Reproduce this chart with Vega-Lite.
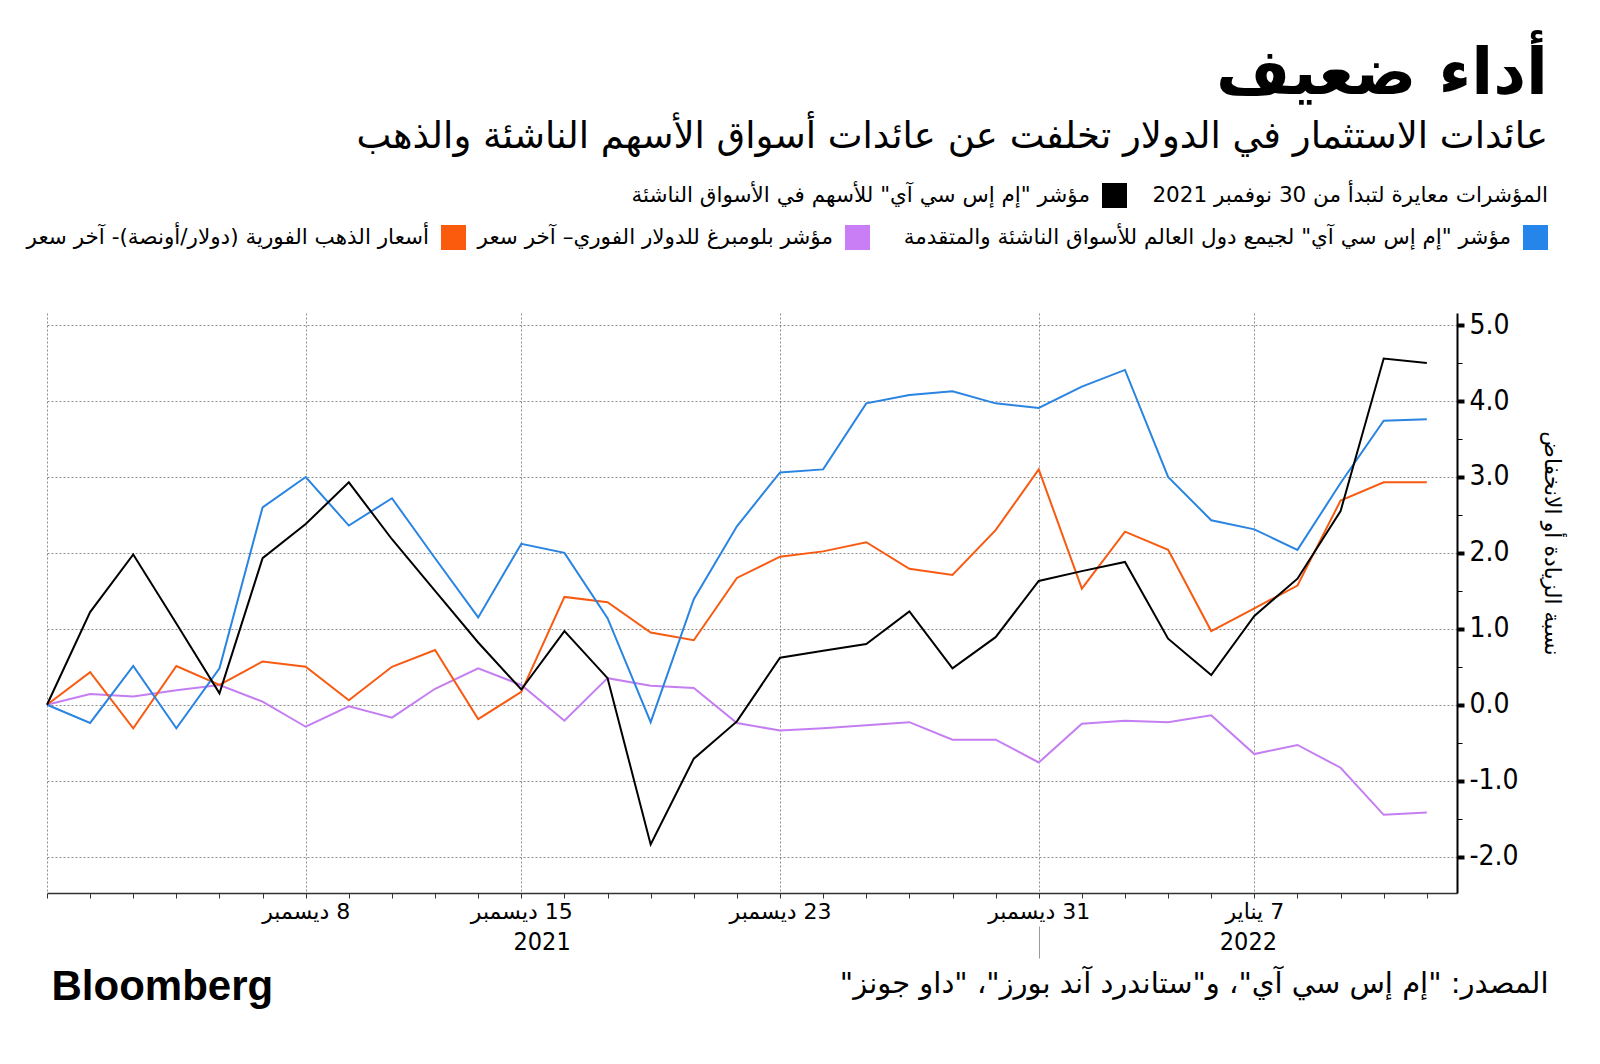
{
  "$schema": "https://vega.github.io/schema/vega-lite/v6.json",
  "width": 1410,
  "height": 580,
  "autosize": {"type": "none"},
  "padding": {"left": 47, "top": 313, "right": 143, "bottom": 171},
  "background": "#ffffff",
  "config": {
    "view": {"stroke": null},
    "font": "DejaVu Sans",
    "legend": {
      "orient": "none",
      "direction": "horizontal",
      "title": null,
      "padding": 0,
      "symbolType": "square",
      "symbolSize": 625,
      "symbolStrokeWidth": 0,
      "symbolOpacity": 1,
      "labelAlign": "right",
      "labelBaseline": "middle",
      "labelOffset": -37,
      "labelFont": "DejaVu Sans",
      "labelFontSize": 21.5,
      "labelColor": "#000000",
      "labelLimit": 2000
    }
  },
  "title": {
    "text": "أداء ضعيف",
    "subtitle": "عائدات الاستثمار في الدولار تخلفت عن عائدات أسواق الأسهم الناشئة والذهب",
    "anchor": "end",
    "frame": "group",
    "dx": 91,
    "offset": 28,
    "font": "DejaVu Sans",
    "fontSize": 64,
    "fontWeight": "bold",
    "color": "#000000",
    "subtitleFont": "DejaVu Sans",
    "subtitleFontSize": 37,
    "subtitleColor": "#000000",
    "subtitlePadding": 12
  },
  "data": {
    "values": [
      {"i": 0, "em": 0, "acwi": 0, "gold": 0, "usd": 0},
      {"i": 1, "em": 1.22, "acwi": -0.24, "gold": 0.43, "usd": 0.14},
      {"i": 2, "em": 1.98, "acwi": 0.51, "gold": -0.31, "usd": 0.11},
      {"i": 3, "em": 1.07, "acwi": -0.31, "gold": 0.51, "usd": 0.19},
      {"i": 4, "em": 0.15, "acwi": 0.48, "gold": 0.26, "usd": 0.26},
      {"i": 5, "em": 1.93, "acwi": 2.6, "gold": 0.57, "usd": 0.04},
      {"i": 6, "em": 2.38, "acwi": 3.0, "gold": 0.5, "usd": -0.29},
      {"i": 7, "em": 2.93, "acwi": 2.36, "gold": 0.06, "usd": -0.02},
      {"i": 8, "em": 2.18, "acwi": 2.72, "gold": 0.5, "usd": -0.17},
      {"i": 9, "em": 1.5, "acwi": 1.93, "gold": 0.72, "usd": 0.21},
      {"i": 10, "em": 0.82, "acwi": 1.15, "gold": -0.19, "usd": 0.48},
      {"i": 11, "em": 0.2, "acwi": 2.12, "gold": 0.17, "usd": 0.26},
      {"i": 12, "em": 0.97, "acwi": 2.0, "gold": 1.42, "usd": -0.21},
      {"i": 13, "em": 0.35, "acwi": 1.14, "gold": 1.35, "usd": 0.35},
      {"i": 14, "em": -1.84, "acwi": -0.23, "gold": 0.95, "usd": 0.25},
      {"i": 15, "em": -0.71, "acwi": 1.39, "gold": 0.85, "usd": 0.22},
      {"i": 16, "em": -0.22, "acwi": 2.35, "gold": 1.67, "usd": -0.24},
      {"i": 17, "em": 0.62, "acwi": 3.06, "gold": 1.95, "usd": -0.34},
      {"i": 18, "em": 0.71, "acwi": 3.1, "gold": 2.02, "usd": -0.31},
      {"i": 19, "em": 0.8, "acwi": 3.97, "gold": 2.14, "usd": -0.27},
      {"i": 20, "em": 1.23, "acwi": 4.08, "gold": 1.79, "usd": -0.23},
      {"i": 21, "em": 0.48, "acwi": 4.13, "gold": 1.71, "usd": -0.46},
      {"i": 22, "em": 0.89, "acwi": 3.97, "gold": 2.3, "usd": -0.46},
      {"i": 23, "em": 1.63, "acwi": 3.91, "gold": 3.1, "usd": -0.76},
      {"i": 24, "em": 1.76, "acwi": 4.19, "gold": 1.53, "usd": -0.25},
      {"i": 25, "em": 1.88, "acwi": 4.41, "gold": 2.28, "usd": -0.21},
      {"i": 26, "em": 0.87, "acwi": 3.0, "gold": 2.04, "usd": -0.23},
      {"i": 27, "em": 0.39, "acwi": 2.43, "gold": 0.97, "usd": -0.14},
      {"i": 28, "em": 1.17, "acwi": 2.31, "gold": 1.27, "usd": -0.65},
      {"i": 29, "em": 1.66, "acwi": 2.04, "gold": 1.57, "usd": -0.53},
      {"i": 30, "em": 2.55, "acwi": 2.92, "gold": 2.69, "usd": -0.83},
      {"i": 31, "em": 4.56, "acwi": 3.74, "gold": 2.93, "usd": -1.45},
      {"i": 32, "em": 4.5, "acwi": 3.76, "gold": 2.93, "usd": -1.42}
    ]
  },
  "resolve": {
    "axis": {"x": "independent"},
    "scale": {"shape": "independent"},
    "legend": {"shape": "independent"}
  },
  "layer": [
    {
      "transform": [{"fold": ["usd", "gold", "acwi", "em"], "as": ["key", "value"]}],
      "mark": {"type": "line", "strokeWidth": 2},
      "encoding": {
        "x": {
          "field": "i",
          "type": "quantitative",
          "scale": {"domain": [0, 32.7], "nice": false, "zero": false},
          "axis": {
            "orient": "bottom",
            "title": null,
            "values": [0,1,2,3,4,5,6,7,8,9,10,11,12,13,14,15,16,17,18,19,20,21,22,23,24,25,26,27,28,29,30,31,32],
            "labelExpr": "datum.value == 6 ? '\u200f8 ديسمبر' : datum.value == 11 ? '\u200f15 ديسمبر' : datum.value == 17 ? '\u200f23 ديسمبر' : datum.value == 23 ? '\u200f31 ديسمبر' : datum.value == 28 ? '\u200f7 يناير' : ''",
            "labelOverlap": false,
            "labelFlush": false,
            "labelFont": "DejaVu Sans",
            "labelFontSize": 22,
            "labelColor": "#000000",
            "labelPadding": 3,
            "ticks": true,
            "tickSize": 5,
            "tickColor": "#333333",
            "tickWidth": 1,
            "domain": true,
            "domainColor": "#333333",
            "domainWidth": 1.5,
            "grid": true,
            "gridColor": "#8c8c8c",
            "gridDash": [2, 2],
            "gridWidth": 1,
            "gridOpacity": {"condition": {"test": "indexof([0,6,11,17,23,28], datum.value) >= 0", "value": 1}, "value": 0}
          }
        },
        "y": {
          "field": "value",
          "type": "quantitative",
          "scale": {"domain": [-2.48, 5.16], "nice": false, "zero": false},
          "axis": {
            "orient": "right",
            "title": "نسبة الزيادة أو الانخفاض",
            "titleFont": "DejaVu Sans",
            "titleFontSize": 22,
            "titleFontWeight": "normal",
            "titleColor": "#000000",
            "titleAngle": 90,
            "titleX": 94,
            "titleY": 230,
            "titleAlign": "center",
            "titleBaseline": "middle",
            "values": [-2, -1.5, -1, -0.5, 0, 0.5, 1, 1.5, 2, 2.5, 3, 3.5, 4, 4.5, 5],
            "labelExpr": "datum.value % 1 == 0 ? (datum.value < 0 ? '-' : '') + format(abs(datum.value), '.1f') : ''",
            "labelFont": "DejaVu Sans Condensed, DejaVu Sans",
            "labelFontSize": 28,
            "labelColor": "#000000",
            "labelPadding": 5,
            "labelOverlap": false,
            "labelFlush": false,
            "tickColor": "#000000",
            "tickSize": {"condition": {"test": "datum.value % 1 == 0", "value": 7}, "value": 5},
            "tickWidth": {"condition": {"test": "datum.value % 1 == 0", "value": 4}, "value": 1},
            "domainColor": "#000000",
            "domainWidth": 2,
            "grid": true,
            "gridColor": "#8c8c8c",
            "gridDash": [2, 2],
            "gridWidth": 1,
            "gridOpacity": {"condition": {"test": "datum.value % 1 == 0", "value": 1}, "value": 0}
          }
        },
        "stroke": {
          "field": "key",
          "type": "nominal",
          "scale": {"domain": ["usd", "gold", "acwi", "em"], "range": ["#c57ef2", "#f75b12", "#2a84e2", "#000000"]},
          "legend": null
        }
      }
    },
    {
      "transform": [{"filter": "datum.i < 0"}],
      "mark": {"type": "point", "filled": true, "color": "#2585ea", "opacity": 1},
      "encoding": {
        "x": {
          "field": "i",
          "type": "quantitative",
          "scale": {"domain": [0, 32.7], "nice": false, "zero": false},
          "axis": {
            "orient": "bottom",
            "values": [11.47, 27.85],
            "labelExpr": "datum.value < 20 ? '2021' : '2022'",
            "labelFont": "DejaVu Sans Condensed, DejaVu Sans",
            "labelFontSize": 25,
            "labelColor": "#000000",
            "labelPadding": 36,
            "labelOverlap": false,
            "labelFlush": false,
            "ticks": false,
            "domain": false,
            "grid": false,
            "title": "المصدر: \"إم إس سي آي\"، و\"ستاندرد آند بورز\"، \"داو جونز\"\u200f",
            "titleFont": "DejaVu Sans",
            "titleFontSize": 29,
            "titleFontWeight": "normal",
            "titleColor": "#000000",
            "titleX": 1501,
            "titleY": 90,
            "titleAlign": "right",
            "titleBaseline": "middle"
          }
        },
        "shape": {
          "field": "s_acwi",
          "type": "nominal",
          "scale": {"domain": ["acwi"], "range": ["square"]},
          "legend": {
            "legendX": 1476,
            "legendY": -88,
            "labelExpr": "'مؤشر \"إم إس سي آي\" لجيمع دول العالم للأسواق الناشئة والمتقدمة'"
          }
        }
      }
    },
    {
      "transform": [{"filter": "datum.i < 0"}],
      "mark": {"type": "point", "filled": true, "color": "#000000", "opacity": 1},
      "encoding": {
        "x": {
          "field": "i",
          "type": "quantitative",
          "scale": {"domain": [0, 32.7], "nice": false, "zero": false},
          "axis": {
            "orient": "bottom",
            "values": [23],
            "offset": 33,
            "labels": false,
            "domain": false,
            "grid": false,
            "ticks": true,
            "tickSize": 32,
            "tickColor": "#9a9a9a",
            "tickWidth": 1,
            "title": "Bloomberg",
            "titleFont": "Liberation Sans, Arial",
            "titleFontSize": 42,
            "titleFontWeight": "bold",
            "titleColor": "#000000",
            "titleX": 4,
            "titleY": 73,
            "titleAlign": "left",
            "titleBaseline": "alphabetic"
          }
        },
        "shape": {
          "field": "s_em",
          "type": "nominal",
          "scale": {"domain": ["em"], "range": ["square"]},
          "legend": {
            "legendX": 1055,
            "legendY": -130,
            "labelExpr": "'مؤشر \"إم إس سي آي\" للأسهم في الأسواق الناشئة'"
          }
        }
      }
    },
    {
      "transform": [{"filter": "datum.i < 0"}],
      "mark": {"type": "point", "filled": true, "color": "#c97ef5", "opacity": 1},
      "encoding": {
        "shape": {
          "field": "s_usd",
          "type": "nominal",
          "scale": {"domain": ["usd"], "range": ["square"]},
          "legend": {
            "legendX": 798,
            "legendY": -88,
            "labelExpr": "'مؤشر بلومبرغ للدولار الفوري– آخر سعر'"
          }
        }
      }
    },
    {
      "transform": [{"filter": "datum.i < 0"}],
      "mark": {"type": "point", "filled": true, "color": "#fa5b0c", "opacity": 1},
      "encoding": {
        "shape": {
          "field": "s_gold",
          "type": "nominal",
          "scale": {"domain": ["gold"], "range": ["square"]},
          "legend": {
            "legendX": 394,
            "legendY": -88,
            "labelExpr": "'أسعار الذهب الفورية (دولار/أونصة)- آخر سعر'"
          }
        }
      }
    },
    {
      "transform": [{"filter": "datum.i < 0"}],
      "mark": {"type": "point", "filled": true, "color": "#ffffff", "opacity": 1},
      "encoding": {
        "shape": {
          "field": "s_note",
          "type": "nominal",
          "scale": {"domain": ["note"], "range": ["square"]},
          "legend": {
            "legendX": 1501,
            "legendY": -130,
            "symbolOpacity": 0,
            "labelOffset": -25,
            "labelExpr": "'المؤشرات معايرة لتبدأ من 30 نوفمبر 2021'"
          }
        }
      }
    }
  ]
}
